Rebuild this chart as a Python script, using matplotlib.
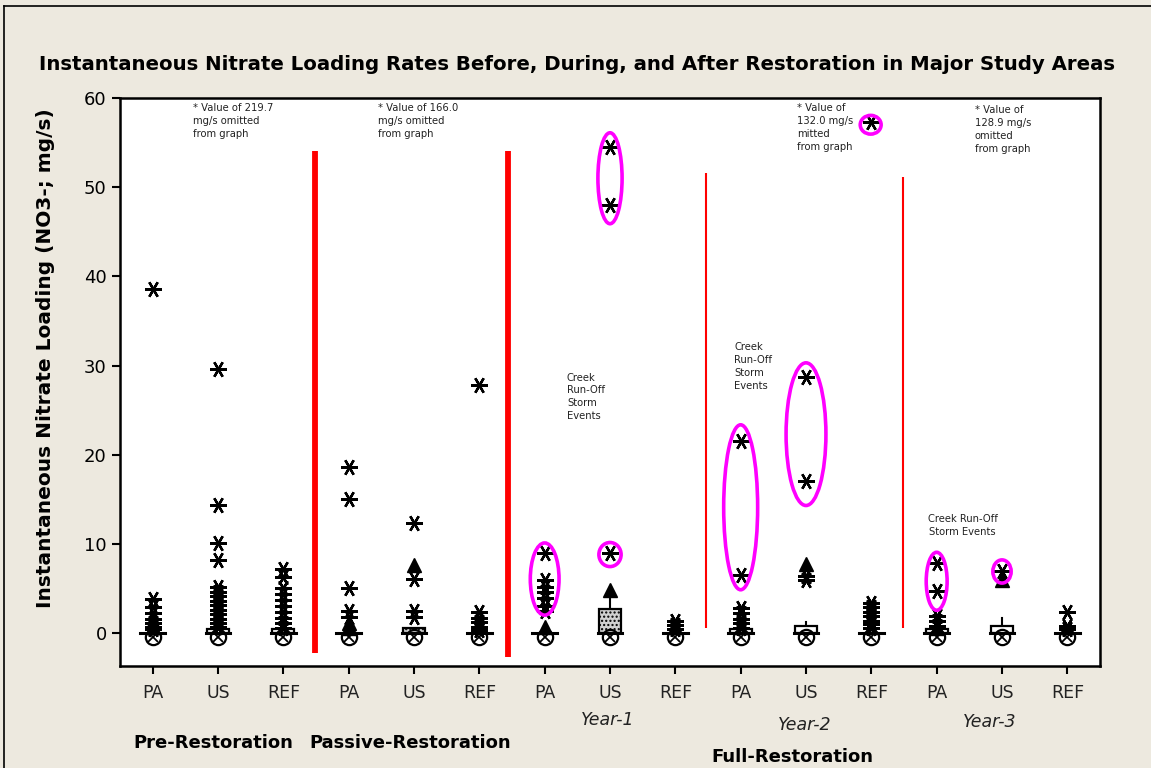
import matplotlib
matplotlib.use("Agg")
import matplotlib.pyplot as plt
from matplotlib.patches import Rectangle, Ellipse
from matplotlib.lines import Line2D

plt.rcParams['font.family'] = ['DejaVu Sans']

# Group labels along the x axis
tick_labels = ["PA", "US", "REF"] * 5

# Outlier values (asterisks) for each of the 15 groups
stars = [
    [38.6, 3.8, 2.9, 2.2, 1.6, 1.1, 0.7, 0.4],
    [29.6, 14.3, 10.1, 8.2, 5.2, 4.6, 4.1, 3.6, 3.1, 2.6, 2.1, 1.6, 1.1, 0.7],
    [7.2, 6.3, 5.0, 4.4, 3.7, 3.0, 2.4, 1.7, 1.1, 0.6],
    [18.6, 15.0, 5.1, 2.5, 1.8],
    [12.3, 6.1, 2.5, 1.8],
    [27.8, 2.3, 1.7, 1.2, 0.7, 0.3],
    [9.0, 6.0, 5.2, 4.6, 3.9, 3.0, 2.5],
    [54.5, 48.0, 9.0],
    [1.4, 0.9, 0.5],
    [21.5, 6.5, 2.8, 2.2, 1.6, 1.1, 0.6],
    [28.7, 17.0, 6.4, 5.9],
    [57.3, 3.4, 2.9, 2.4, 1.9, 1.4, 1.0, 0.6],
    [7.8, 4.7, 1.9, 1.4, 0.8],
    [6.9],
    [2.4, 0.8, 0.4],
]

# Triangle symbols
tris = [
    [1.2, 0.7], [], [],
    [1.1, 0.6], [7.6], [],
    [0.7], [4.8], [],
    [], [7.7], [],
    [0.6], [5.9], [],
]

# Box (q1, q3), upper whisker and fill style
box_q1 = [0, 0, 0, 0, 0, 0, 0, 0, 0, 0, 0, 0, 0, 0, 0]
box_q3 = [0, 0.5, 0.5, 0, 0.6, 0, 0, 2.7, 0, 0.5, 0.8, 0, 0.4, 0.8, 0]
whisk_hi = [0, 0.5, 0.5, 0, 0.6, 0, 0, 4.0, 0, 0.5, 1.2, 0, 0.4, 1.7, 0]
hatched = [False, False, False, False, True, False, False, True,
           False, False, False, False, False, False, False]
mean_y = [-0.4] * 15

# Highlight ellipses: (group, centre y, width, height)
ell_x = [7, 8, 8, 10, 11, 11.99, 13, 14]
ell_y = [6.05, 51.0, 8.8, 14.1, 22.3, 57.0, 5.8, 6.9]
ell_w = [0.44, 0.37, 0.34, 0.52, 0.61, 0.32, 0.32, 0.28]
ell_h = [8.1, 10.2, 2.7, 18.5, 16.0, 2.1, 6.5, 2.6]

# Separators between phases: (x, y bottom, y top, width)
sep_x = [3.48, 6.44, 9.47, 12.49]
sep_lo = [-2.2, -2.7, 0.6, 0.6]
sep_hi = [54.1, 54.1, 51.6, 51.1]
sep_lw = [4.2, 4.2, 1.5, 1.5]

bg = '#EDE9DF'
fig = plt.figure(figsize=(11.51, 7.68), dpi=100, facecolor=bg)
ax = fig.add_axes([120 / 1151, 1 - 666 / 768, 980 / 1151, 568 / 768])
ax.set_facecolor('white')
ax.set_xlim(0.5, 15.5)
ax.set_ylim(-3.7, 60)

star_marker = (6, 2, 90)
bw = 0.34
for i in range(15):
    x = i + 1
    q1, q3 = box_q1[i], box_q3[i]
    if whisk_hi[i] > q3:
        ax.plot([x, x], [q3, whisk_hi[i]], color='black', lw=1.5, zorder=2)
    if q3 > q1:
        if hatched[i]:
            ax.add_patch(Rectangle((x - bw / 2, q1), bw, q3 - q1, facecolor='#d0d0d0',
                                   edgecolor='black', hatch='....', lw=1.6, zorder=3))
        else:
            ax.add_patch(Rectangle((x - bw / 2, q1), bw, q3 - q1, facecolor='white',
                                   edgecolor='black', lw=1.6, zorder=3))
    ax.plot([x - bw / 2 - 0.02, x + bw / 2 + 0.02], [0, 0], color='black', lw=2.2, zorder=4)
    # mean symbol: circle with a cross
    ax.plot(x, mean_y[i], marker='o', ms=11, mfc='none', mec='black', mew=1.6, zorder=5)
    ax.plot(x, mean_y[i], marker='x', ms=7, color='black', mew=1.3, zorder=5)
    if stars[i]:
        ax.plot([x] * len(stars[i]), stars[i], ls='none', marker=star_marker, ms=12,
                mec='black', mew=1.7, zorder=6)
    if tris[i]:
        ax.plot([x] * len(tris[i]), tris[i], ls='none', marker='^', ms=10,
                color='black', zorder=6)

for x, y, w, h in zip(ell_x, ell_y, ell_w, ell_h):
    ax.add_patch(Ellipse((x, y), w, h, facecolor='none', edgecolor='#FF00FF', lw=2.6, zorder=7))

for x, lo, hi, lw in zip(sep_x, sep_lo, sep_hi, sep_lw):
    ax.plot([x, x], [lo, hi], color='#FF0000', lw=lw, solid_capstyle='butt', zorder=1)

ax.set_xticks(range(1, 16))
ax.set_xticklabels(tick_labels, fontsize=12.5, color='#222222')
ax.set_yticks(range(0, 61, 10))
ax.tick_params(axis='y', labelsize=13, direction='out', length=6, width=1.5)
ax.tick_params(axis='x', direction='out', length=6, width=1.5, pad=7)
for s in ax.spines.values():
    s.set_linewidth(1.8)

# notes
small = dict(fontsize=7.2, va='top', ha='left', linespacing=1.35, color='#222222')
ax.text(1.61, 59.4, "* Value of 219.7\nmg/s omitted\nfrom graph", **small)
ax.text(4.45, 59.4, "* Value of 166.0\nmg/s omitted\nfrom graph", **small)
ax.text(10.86, 59.4, "* Value of\n132.0 mg/s\nmitted\nfrom graph", **small)
ax.text(13.58, 59.2, "* Value of\n128.9 mg/s\nomitted\nfrom graph", **small)
ax.text(7.34, 29.2, "Creek\nRun-Off\nStorm\nEvents", **small)
ax.text(9.9, 32.6, "Creek\nRun-Off\nStorm\nEvents", **small)
ax.text(13.4, 13.3, "Creek Run-Off\nStorm Events", fontsize=7.2, va='top', ha='center',
        linespacing=1.35, color='#222222')

ax.set_ylabel("Instantaneous Nitrate Loading (NO3-; mg/s)", fontsize=14.5,
              fontweight='bold')
ax.yaxis.set_label_coords(-0.066, 0.542)

fig.text(577 / 1151, 1 - 65 / 768,
         "Instantaneous Nitrate Loading Rates Before, During, and After Restoration in Major Study Areas",
         ha='center', va='center', fontsize=14.2, fontweight='bold')

for label, px, py in [("Year-1", 608, 720), ("Year-2", 805, 725), ("Year-3", 990, 722)]:
    fig.text(px / 1151, 1 - py / 768, label, ha='center', va='center', fontsize=12.5,
             style='italic', color='#222222')
for label, px, py in [("Pre-Restoration", 213, 743), ("Passive-Restoration", 410, 743),
                      ("Full-Restoration", 792, 757)]:
    fig.text(px / 1151, 1 - py / 768, label, ha='center', va='center', fontsize=13,
             fontweight='bold')

# outer frame (top and left edges visible)
fig.add_artist(Line2D([4 / 1151, 4 / 1151], [0, 1 - 6 / 768], color='black', lw=1.2))
fig.add_artist(Line2D([4 / 1151, 1], [1 - 6 / 768, 1 - 6 / 768], color='black', lw=1.2))

fig.savefig("out.png", dpi=100, facecolor=bg)
